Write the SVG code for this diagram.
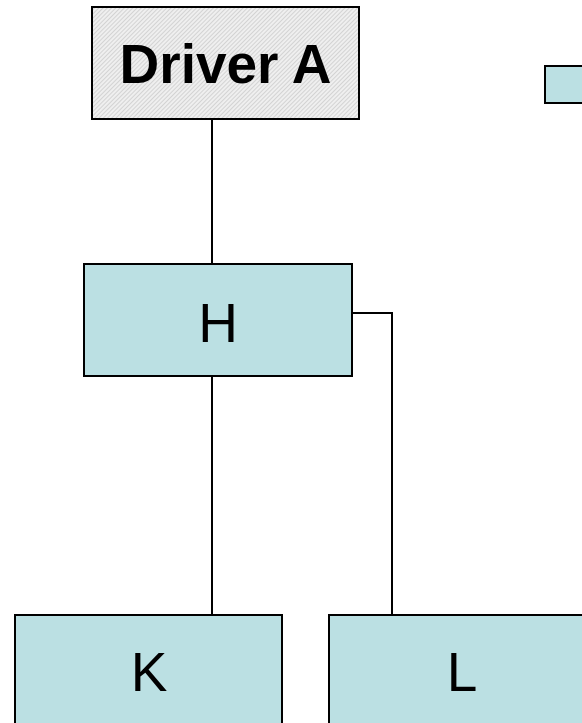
<svg xmlns="http://www.w3.org/2000/svg" width="582" height="723" viewBox="0 0 582 723">
<defs>
<pattern id="hatch" width="3" height="3" patternUnits="userSpaceOnUse" patternTransform="rotate(45)">
<rect width="3" height="3" fill="#efefef"/>
<line x1="0" y1="0" x2="0" y2="3" stroke="#b8b8b8" stroke-width="1"/>
</pattern>
</defs>
<style>
.box{fill:#bbe0e3;stroke:#000;stroke-width:2}
.hb{fill:url(#hatch);stroke:#000;stroke-width:2}
.lbl{font-family:"Liberation Sans",Arial,sans-serif;font-size:55px;text-anchor:middle;fill:#000}
.b{font-weight:bold}
.edge{fill:none;stroke:#000;stroke-width:2}
</style>
<g id="connectors">
<line class="edge" x1="212" y1="119" x2="212" y2="264"/>
<line class="edge" x1="212" y1="376" x2="212" y2="615"/>
<polyline class="edge" points="352,313 392,313 392,615"/>
</g>
<g id="driverA">
<rect class="hb" x="92" y="7" width="267" height="112"/>
<text class="lbl b" x="225.5" y="83">Driver A</text>
</g>
<g id="H">
<rect class="box" x="84" y="264" width="268" height="112"/>
<text class="lbl" x="218" y="342">H</text>
</g>
<g id="K">
<rect class="box" x="15" y="615" width="267" height="120"/>
<text class="lbl" x="149" y="691">K</text>
</g>
<g id="L">
<rect class="box" x="329" y="615" width="267" height="120"/>
<text class="lbl" x="462" y="691">L</text>
</g>
<g id="legend">
<rect class="box" x="545" y="66" width="50" height="37"/>
</g>
</svg>
